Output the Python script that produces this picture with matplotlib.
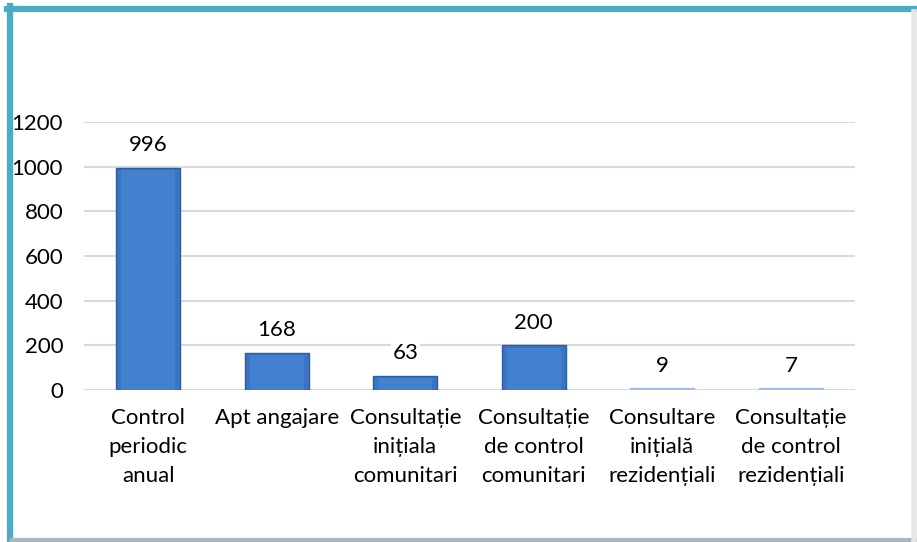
import numpy as np
import matplotlib.pyplot as plt
from matplotlib.patches import Rectangle
from matplotlib.lines import Line2D

categories = ["Control\nperiodic\nanual", "Apt angajare", "Consultație\ninițiala\ncomunitari",
              "Consultație\nde control\ncomunitari", "Consultare\ninițială\nrezidențiali",
              "Consultație\nde control\nrezidențiali"]
values = [996, 168, 63, 200, 9, 7]
yticks = [0, 200, 400, 600, 800, 1000, 1200]

plt.rcParams['font.family'] = ['Lato', 'DejaVu Sans']

fig = plt.figure(figsize=(9.17, 5.42), dpi=100)
ax = fig.add_axes([0.0916, 0.2804, 0.8408, 0.4945])

x = np.arange(len(categories))
bars = ax.bar(x, values, width=0.5, color='#3a74c2', edgecolor='#2c5e9e', linewidth=1.0, zorder=3)
# lighter bevel inside each bar
for b in bars:
    h = b.get_height()
    if h > 20:
        ax.add_patch(Rectangle((b.get_x() + 0.04, 0), b.get_width() - 0.08, h - 10,
                               facecolor='#4181d0', edgecolor='none', zorder=4))
    else:
        b.set_color('#9ec0ea')

for xi, v in zip(x, values):
    ax.annotate(str(v), (xi, v), xytext=(0, 9), textcoords='offset points',
                ha='center', va='bottom', fontsize=16, color='black', zorder=5,
                bbox=dict(facecolor='white', edgecolor='none', pad=1))

ax.set_ylim(0, 1200)
ax.set_xlim(-0.5, len(categories) - 0.5)
ax.set_yticks(yticks)
ax.set_yticklabels([str(t) for t in yticks], fontsize=16)
ax.set_xticks(x)
ax.set_xticklabels(categories, fontsize=16, linespacing=1.55, va='top')
ax.tick_params(axis='both', length=0)
ax.tick_params(axis='x', pad=13)
ax.tick_params(axis='y', pad=15)
ax.yaxis.grid(True, color='#d9d9d9', linewidth=1.5, zorder=0)
ax.set_axisbelow(True)
for s in ax.spines.values():
    s.set_visible(False)

# frame: teal top/left, grey shadow right/bottom
W, H = 917, 542
fig.add_artist(Line2D([9.5 / W, 9.5 / W], [0.0, 1 - 6 / H], transform=fig.transFigure,
                      color='#4bacc6', linewidth=4.5))
fig.add_artist(Line2D([7 / W, 1.0], [1 - 9 / H, 1 - 9 / H], transform=fig.transFigure,
                      color='#4bacc6', linewidth=4.5))
fig.add_artist(Line2D([12 / W, 1.0], [2 / H, 2 / H], transform=fig.transFigure,
                      color='#a9b8bd', linewidth=3))
fig.add_artist(Line2D([1 - 3 / W, 1 - 3 / W], [0, 1 - 12 / H], transform=fig.transFigure,
                      color='#e6e6e6', linewidth=4))

fig.savefig('out.png', dpi=100)
